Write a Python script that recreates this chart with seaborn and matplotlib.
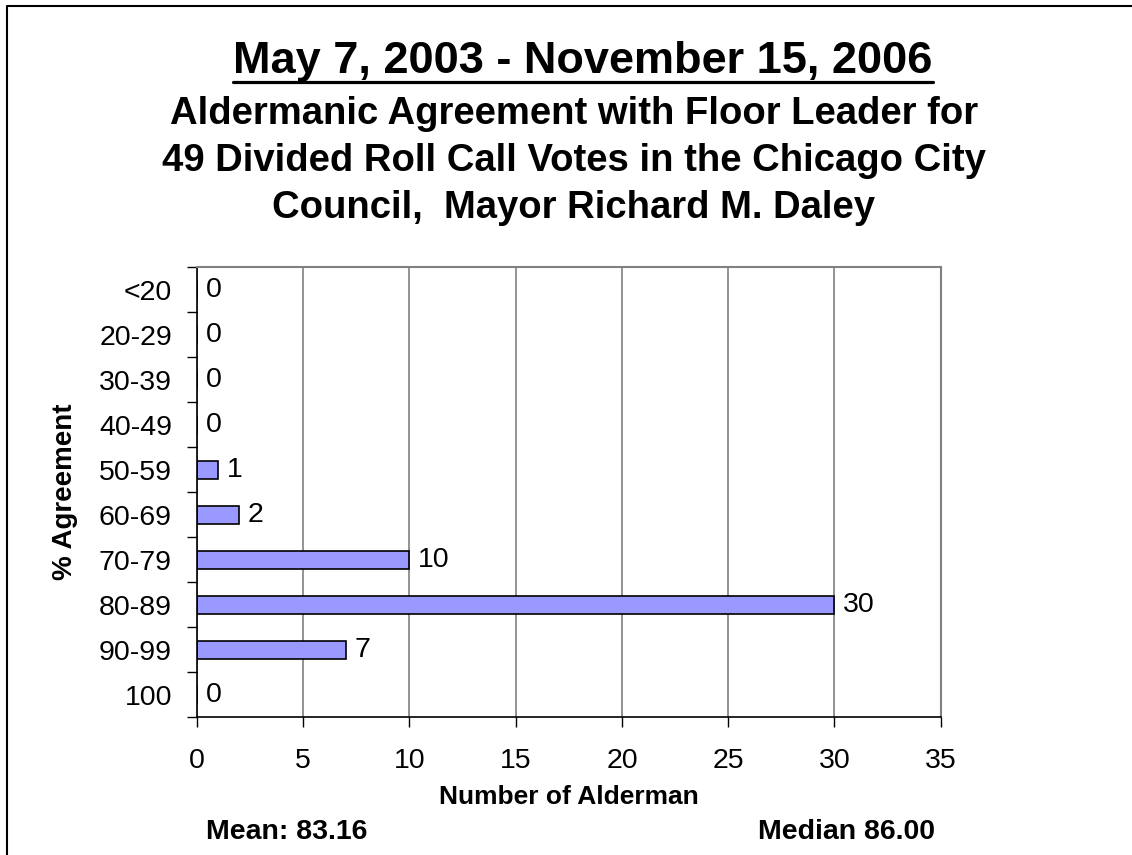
import numpy as np
import pandas as pd
import seaborn as sns
import matplotlib.pyplot as plt
from matplotlib.lines import Line2D
from matplotlib.ticker import FixedLocator

# Data
categories = ["<20", "20-29", "30-39", "40-49", "50-59",
              "60-69", "70-79", "80-89", "90-99", "100"]
counts = [0, 0, 0, 0, 1, 2, 10, 30, 7, 0]
x_ticks = [0, 5, 10, 15, 20, 25, 30, 35]

title_top = "May 7, 2003 - November 15, 2006"
subtitle_lines = ["Aldermanic Agreement with Floor Leader for",
                  "49 Divided Roll Call Votes in the Chicago City",
                  "Council,  Mayor Richard M. Daley"]
mean_text = "Mean: 83.16"
median_text = "Median 86.00"

df = pd.DataFrame({"category": categories, "count": counts})

sns.set_style("white")
plt.rcParams["font.family"] = ["Liberation Sans", "DejaVu Sans"]
plt.rcParams["text.color"] = "black"
plt.rcParams["axes.labelcolor"] = "black"
plt.rcParams["xtick.color"] = "black"
plt.rcParams["ytick.color"] = "black"

fig = plt.figure(figsize=(11.32, 8.55), dpi=100)
ax = fig.add_axes([0.174, 0.1614, 0.657, 0.5263])

sns.barplot(data=df, x="count", y="category", order=categories,
            color="#9999FF", edgecolor="black", linewidth=1.2,
            width=0.4, saturation=1, ax=ax)

ax.set_xlim(0, 35)
ax.set_ylim(len(categories) - 0.5, -0.5)
ax.set_xticks(x_ticks)
ax.set_xticklabels([str(t) for t in x_ticks], fontsize=20.5)
ax.tick_params(axis="x", direction="out", length=7, width=1,
               bottom=True, pad=15.5)
ax.tick_params(axis="y", which="major", length=0, labelsize=20.5, pad=18)
ax.yaxis.set_minor_locator(FixedLocator(np.arange(-0.5, len(categories), 1)))
ax.tick_params(axis="y", which="minor", direction="out", length=7, width=1,
               left=True)

ax.grid(axis="x", color="#808080", linewidth=1.2)
ax.set_axisbelow(True)
for side in ["top", "right"]:
    ax.spines[side].set_visible(True)
    ax.spines[side].set_color("#808080")
    ax.spines[side].set_linewidth(1.5)
for side in ["left", "bottom"]:
    ax.spines[side].set_color("black")
    ax.spines[side].set_linewidth(1.2)

# value labels
for i, v in enumerate(counts):
    ax.text(v + 0.4, i, str(v), va="center", ha="left", fontsize=20.5)

ax.set_xlabel("Number of Alderman", fontsize=19, fontweight="bold", labelpad=8)
ax.set_ylabel("% Agreement", fontsize=20, fontweight="bold", labelpad=15)

# titles
t1 = fig.text(0.515, 0.9146, title_top, ha="center", va="baseline",
              fontsize=32.5, fontweight="bold")
for k, line in enumerate(subtitle_lines):
    fig.text(0.507, 0.8555 - k * 0.055, line, ha="center", va="baseline",
             fontsize=27.5, fontweight="bold")

# underline for the top title
fig.canvas.draw()
bb = t1.get_window_extent().transformed(fig.transFigure.inverted())
fig.add_artist(Line2D([bb.x0, bb.x1], [0.904, 0.904], color="black",
                      linewidth=2.3, transform=fig.transFigure))

fig.text(0.2535, 0.027, mean_text, ha="center", va="center",
         fontsize=20.5, fontweight="bold")
fig.text(0.826, 0.027, median_text, ha="right", va="center",
         fontsize=20.5, fontweight="bold")

# outer frame (left and top edges only, rest cropped)
fig.add_artist(Line2D([0.0066, 0.0066, 1.0], [0.0, 0.9935, 0.9935],
                      color="black", linewidth=1.5, transform=fig.transFigure))

fig.savefig("out.png", dpi=100)
